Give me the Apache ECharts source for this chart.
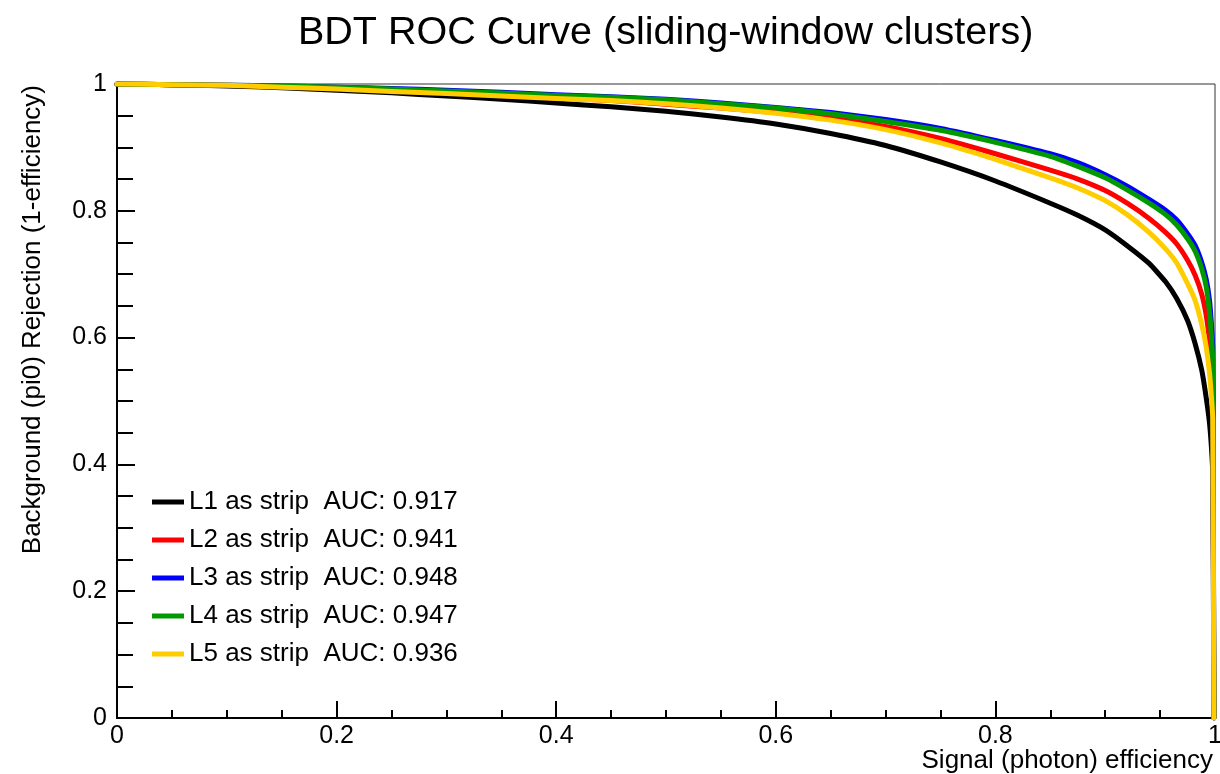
<!DOCTYPE html>
<html>
<head>
<meta charset="utf-8">
<script src="https://cdn.jsdelivr.net/npm/echarts@6/dist/echarts.min.js"></script>
<style>
html,body{margin:0;padding:0;background:#fff;}
#chart{width:1220px;height:774px;}
</style>
</head>
<body>
<div id="chart"></div>
<script>
// Signal efficiency sample points (x)
const effX = [0, 0.05, 0.1, 0.15, 0.2, 0.25, 0.3, 0.35, 0.4, 0.45, 0.5, 0.55, 0.6, 0.65, 0.7, 0.75, 0.8, 0.85, 0.875, 0.9, 0.92, 0.94, 0.955, 0.965, 0.975, 0.982, 0.988, 0.992, 0.995, 0.997, 0.998];
// Background rejection per layer (y)
const rejL1 = [1.000, 0.999, 0.997, 0.994, 0.990, 0.986, 0.981, 0.976, 0.970, 0.964, 0.957, 0.948, 0.937, 0.922, 0.903, 0.877, 0.847, 0.812, 0.793, 0.770, 0.745, 0.717, 0.688, 0.662, 0.627, 0.590, 0.548, 0.505, 0.465, 0.420, 0.380];
const rejL2 = [1.000, 0.999, 0.998, 0.996, 0.993, 0.990, 0.986, 0.982, 0.978, 0.974, 0.968, 0.962, 0.955, 0.946, 0.933, 0.914, 0.890, 0.864, 0.850, 0.832, 0.812, 0.788, 0.766, 0.748, 0.722, 0.698, 0.668, 0.635, 0.595, 0.555, 0.520];
const rejL3 = [1.000, 0.999, 0.998, 0.997, 0.995, 0.993, 0.990, 0.987, 0.983, 0.980, 0.976, 0.970, 0.963, 0.955, 0.944, 0.930, 0.911, 0.890, 0.876, 0.857, 0.839, 0.818, 0.801, 0.786, 0.764, 0.745, 0.718, 0.692, 0.659, 0.615, 0.580];
const rejL4 = [1.000, 0.999, 0.998, 0.997, 0.995, 0.992, 0.989, 0.986, 0.982, 0.979, 0.975, 0.969, 0.962, 0.953, 0.941, 0.927, 0.908, 0.886, 0.870, 0.852, 0.833, 0.812, 0.794, 0.778, 0.756, 0.736, 0.708, 0.680, 0.640, 0.595, 0.560];
const rejL5 = [1.000, 0.999, 0.998, 0.995, 0.992, 0.988, 0.985, 0.981, 0.977, 0.974, 0.969, 0.962, 0.954, 0.943, 0.928, 0.907, 0.881, 0.852, 0.836, 0.816, 0.794, 0.766, 0.740, 0.718, 0.685, 0.658, 0.620, 0.585, 0.544, 0.500, 0.470];
// final vertical drop to zero rejection
const endX = 0.999;
const endY = 0;

const seriesNames = ["L1 as strip  AUC: 0.917", "L2 as strip  AUC: 0.941", "L3 as strip  AUC: 0.948", "L4 as strip  AUC: 0.947", "L5 as strip  AUC: 0.936"];
const seriesColors = ["#000000", "#ff0000", "#0000ff", "#009900", "#ffcc00"];
const seriesValues = [rejL1, rejL2, rejL3, rejL4, rejL5];

const titleText = "BDT ROC Curve (sliding-window clusters)";
const xTitle = "Signal (photon) efficiency";
const yTitle = "Background (pi0) Rejection (1-efficiency)";

const FONT = "Liberation Sans, Arial, Helvetica, sans-serif";

function pairs(ys){
  const d = effX.map((x,i)=>[x, ys[i]]);
  d.push([endX, endY]);
  return d;
}

const chart = echarts.init(document.getElementById('chart'), null, {renderer:'canvas'});
const option = {
  animation: false,
  backgroundColor: '#ffffff',
  title: {
    text: titleText,
    left: 298, top: 13, padding: 0,
    textStyle: {fontFamily: FONT, fontSize: 39.5, fontWeight: 'normal', color: '#000'}
  },
  grid: {left: 117, right: 5, top: 84, bottom: 56, containLabel: false, outerBoundsMode: 'none',
         show: true, borderColor: '#333', borderWidth: 1, backgroundColor: 'transparent'},
  legend: {
    orient: 'vertical', left: 152, top: 489, padding: 0,
    icon: 'rect', itemWidth: 32, itemHeight: 5, itemGap: 12,
    data: seriesNames,
    textStyle: {fontFamily: FONT, fontSize: 26, color: '#000', lineHeight: 26},
    selectedMode: false
  },
  xAxis: {
    type: 'value', min: 0, max: 1, interval: 0.2,
    axisLine: {show: true, onZero: false, lineStyle: {color: '#000', width: 2}},
    axisTick: {show: true, inside: true, length: 17, lineStyle: {color: '#000', width: 2}},
    minorTick: {show: true, splitNumber: 4, length: 8, lineStyle: {color: '#000', width: 2}},
    splitLine: {show: false},
    axisLabel: {margin: 6, fontFamily: FONT, fontSize: 25, color: '#000', showMinLabel: true, showMaxLabel: true}
  },
  yAxis: {
    type: 'value', min: 0, max: 1, interval: 0.2,
    axisLine: {show: true, onZero: false, lineStyle: {color: '#000', width: 2}},
    axisTick: {show: true, inside: true, length: 18, lineStyle: {color: '#000', width: 2}},
    minorTick: {show: true, splitNumber: 4, length: 16, lineStyle: {color: '#000', width: 2}},
    splitLine: {show: false},
    axisLabel: {margin: 10, fontFamily: FONT, fontSize: 25, color: '#000', showMinLabel: true, showMaxLabel: true}
  },
  graphic: [
    {type: 'text', x: 1213, y: 761, style: {text: xTitle, font: '26px ' + FONT, fill: '#000', align: 'right', verticalAlign: 'middle'}},
    {type: 'text', x: 33, y: 85, rotation: Math.PI/2, style: {text: yTitle, font: '26px ' + FONT, fill: '#000', align: 'right', verticalAlign: 'middle'}}
  ],
  series: seriesNames.map((n,i)=>({
    name: n, type: 'line', showSymbol: false, symbol: 'none',
    smooth: 0.15,
    data: pairs(seriesValues[i]),
    lineStyle: {color: seriesColors[i], width: 5, join: 'round', cap: 'round'},
    itemStyle: {color: seriesColors[i]},
    emphasis: {disabled: true}, clip: true
  }))
};
chart.setOption(option);
</script>
</body>
</html>
